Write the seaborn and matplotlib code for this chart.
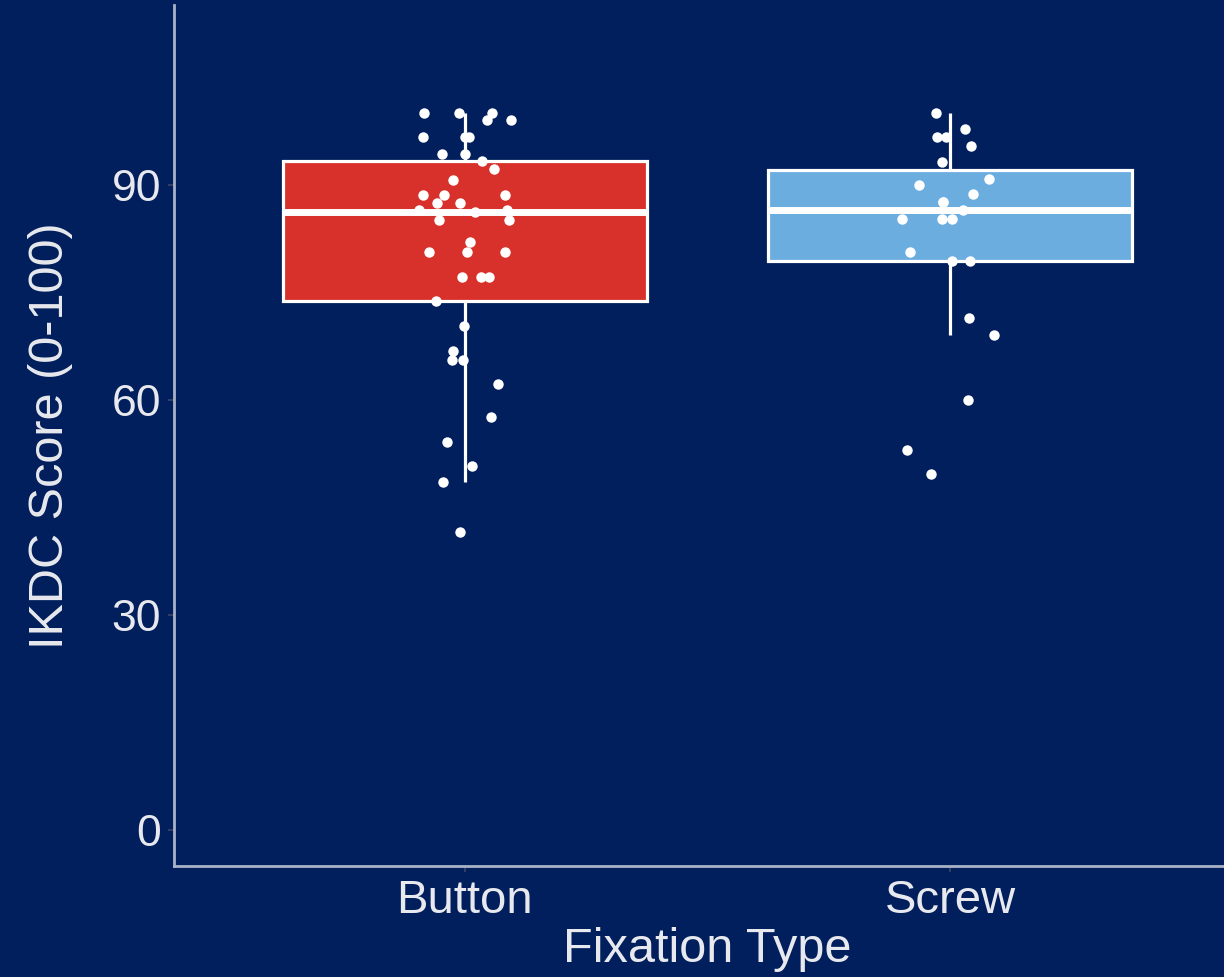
import numpy as np
import pandas as pd
import matplotlib
matplotlib.use("Agg")
import matplotlib.pyplot as plt
import seaborn as sns

# IKDC scores
button = [100, 100, 100, 99, 99, 96.6, 96.6, 96.6, 94.3, 94.3, 93.3, 92.2, 90.7,
          88.6, 88.6, 88.6, 87.5, 87.5, 86.4, 86.4, 86.2, 85.0, 85.0,
          82.0, 80.6, 80.6, 80.6, 77.1, 77.1, 77.1, 73.8, 70.3, 66.8,
          65.5, 65.5, 62.2, 57.6, 54.1, 50.7, 48.5, 41.6]
screw = [100, 97.8, 96.6, 96.6, 95.4, 93.2, 90.8, 89.9, 88.7, 87.6, 87.6, 86.4,
         85.2, 85.2, 85.2, 80.6, 79.4, 79.4, 71.4, 69.0, 59.9, 53.0, 49.6]
groups = ["Button", "Screw"]
yticks = [0, 30, 60, 90]

df = pd.DataFrame({
    "Fixation Type": ["Button"] * len(button) + ["Screw"] * len(screw),
    "IKDC": button + screw,
})

bg = "#001f5c"
fg = "#e8e9ee"
axis_col = "#a9b3c6"
palette = {"Button": "#d8312b", "Screw": "#6cade0"}

plt.rcParams["font.family"] = ["Liberation Sans", "DejaVu Sans"]

fig = plt.figure(figsize=(12.24, 9.77), dpi=100, facecolor=bg)
ax = fig.add_axes([0.142, 0.1136, 0.872, 0.881])
ax.set_facecolor(bg)

sns.boxplot(data=df, x="Fixation Type", y="IKDC", hue="Fixation Type",
            order=groups, palette=palette, saturation=1, width=0.75,
            linecolor="white", linewidth=2.3, showfliers=False, showcaps=False,
            whis=1.5, medianprops=dict(linewidth=5, color="white"),
            legend=False, ax=ax)

np.random.seed(7)
sns.stripplot(data=df, x="Fixation Type", y="IKDC", order=groups,
              color="white", size=7.5, jitter=0.1, linewidth=0,
              zorder=3, ax=ax)

ax.set_xlim(-0.6, 1.6)
ax.set_ylim(-5, 115)
ax.set_yticks(yticks)

for side in ["top", "right"]:
    ax.spines[side].set_visible(False)
for side in ["left", "bottom"]:
    ax.spines[side].set_color(axis_col)
    ax.spines[side].set_linewidth(2)

ax.tick_params(axis="both", colors="#3a4466", length=4, width=1.2,
               labelcolor=fg, labelsize=32, pad=5)
ax.tick_params(axis="x", labelsize=34)
ax.set_xlabel("Fixation Type", color=fg, fontsize=35, labelpad=3)
ax.set_ylabel("IKDC Score (0-100)", color=fg, fontsize=35, labelpad=28)

fig.savefig("out.png", dpi=100, facecolor=bg)
